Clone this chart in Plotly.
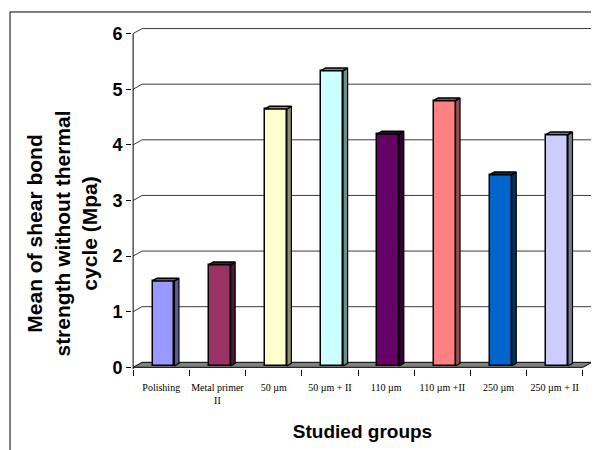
import plotly.graph_objects as go

# ---- data ----
categories = ["Polishing", "Metal primer<br>II", "50 µm", "50 µm + II",
              "110 µm", "110 µm +II", "250 µm", "250 µm + II"]
values = [1.53, 1.82, 4.62, 5.31, 4.17, 4.77, 3.44, 4.16]
front_colors = ["#9999FF", "#993366", "#FFFFCC", "#CCFFFF",
                "#660066", "#FF8080", "#0066CC", "#CCCCFF"]
side_colors = ["#5C5C99", "#4D1A33", "#8F8F70", "#6B8F8F",
               "#330033", "#994D4D", "#003366", "#7A7A99"]
y_ticks = [0, 1, 2, 3, 4, 5, 6]

# ---- 3D-look parameters (in axis units) ----
DX, DY = 0.16, 0.09          # full depth of the floor / back wall
BOFF, BW = 0.04, 0.39        # bar front face offset and width
BDY = 0.022                  # bar plane raised above front floor
SDX, SDY = 0.08, 0.05        # bar depth (side/top faces)

fig = go.Figure()

n = len(categories)
xs = list(range(n))

# front faces
fig.add_trace(go.Bar(
    x=[i + BOFF for i in xs], y=values, base=[BDY] * n, width=BW,
    marker=dict(color=front_colors, line=dict(color="black", width=1.5)),
    hoverinfo="skip", showlegend=False))

# side and top faces
for i, v in enumerate(values):
    xl = i + BOFF - BW / 2
    xr = i + BOFF + BW / 2
    top = v + BDY
    fig.add_trace(go.Scatter(
        x=[xr, xr + SDX, xr + SDX, xr, xr],
        y=[BDY, BDY + SDY, top + SDY, top, BDY],
        mode="lines", fill="toself", fillcolor=side_colors[i],
        line=dict(color="black", width=1.2), hoverinfo="skip", showlegend=False))
    fig.add_trace(go.Scatter(
        x=[xl, xl + SDX, xr + SDX, xr, xl],
        y=[top, top + SDY, top + SDY, top, top],
        mode="lines", fill="toself", fillcolor=side_colors[i],
        line=dict(color="black", width=1.5), hoverinfo="skip", showlegend=False))

# value axis line
fig.add_trace(go.Scatter(x=[-0.5, -0.5], y=[-0.05, max(y_ticks)], mode="lines",
                         line=dict(color="black", width=1), hoverinfo="skip",
                         showlegend=False))

shapes = []
xmin, xmax = -0.5, n - 0.5
# back wall gridlines with depth connectors
for t in y_ticks[1:]:
    shapes.append(dict(type="path", xref="x", yref="y", layer="below",
                       path=f"M {xmin},{t} L {xmin + DX},{t + DY} L {xmax + DX},{t + DY}",
                       line=dict(color="#3a3a3a", width=1)))
# floor
shapes.append(dict(type="path", xref="x", yref="y", layer="below",
                   path=f"M {xmin},0 L {xmax},0 L {xmax + DX},{DY} L {xmin + DX},{DY} Z",
                   fillcolor="#808080", line=dict(color="black", width=1)))
# outer frame (top and left edges)
shapes.append(dict(type="line", xref="paper", yref="paper",
                   x0=-0.2646, x1=1.05, y0=1.047, y1=1.047,
                   line=dict(color="black", width=1)))
shapes.append(dict(type="line", xref="paper", yref="paper",
                   x0=-0.2646, x1=-0.2646, y0=1.047, y1=-0.3,
                   line=dict(color="black", width=1)))

fig.update_layout(
    width=591, height=442,
    margin=dict(l=124, r=6, t=20, b=81),
    paper_bgcolor="white", plot_bgcolor="white",
    shapes=shapes,
    bargap=0,
    xaxis=dict(range=[-0.52, n - 0.5 + DX + 0.02], tickvals=xs, ticktext=categories,
               ticks="", showgrid=False, zeroline=False, showline=False,
               automargin=False,
               tickfont=dict(family="Liberation Serif", size=10, color="black"),
               ticklabelstandoff=11,
               minor=dict(ticks="outside", ticklen=6, tickcolor="black",
                          tick0=-0.5, dtick=1, showgrid=False),
               title=dict(text="Studied groups",
                          font=dict(family="Liberation Sans", size=19, color="black",
                                    weight="bold"),
                          standoff=19)),
    yaxis=dict(range=[-0.03, 6.1], tickvals=y_ticks, ticks="outside", ticklen=5,
               tickcolor="black", showgrid=False, zeroline=False, showline=False,
               automargin=False,
               tickfont=dict(family="Liberation Sans", size=18, color="black",
                             weight="bold")),
    annotations=[dict(text="Mean of shear bond<br>strength without thermal<br>cycle (Mpa)",
                      xref="paper", yref="paper", x=-0.152, y=0.397,
                      xanchor="center", yanchor="middle", textangle=-90,
                      showarrow=False,
                      font=dict(family="Liberation Sans", size=21, color="black",
                                weight="bold"))],
)

fig.write_html("out.html")
